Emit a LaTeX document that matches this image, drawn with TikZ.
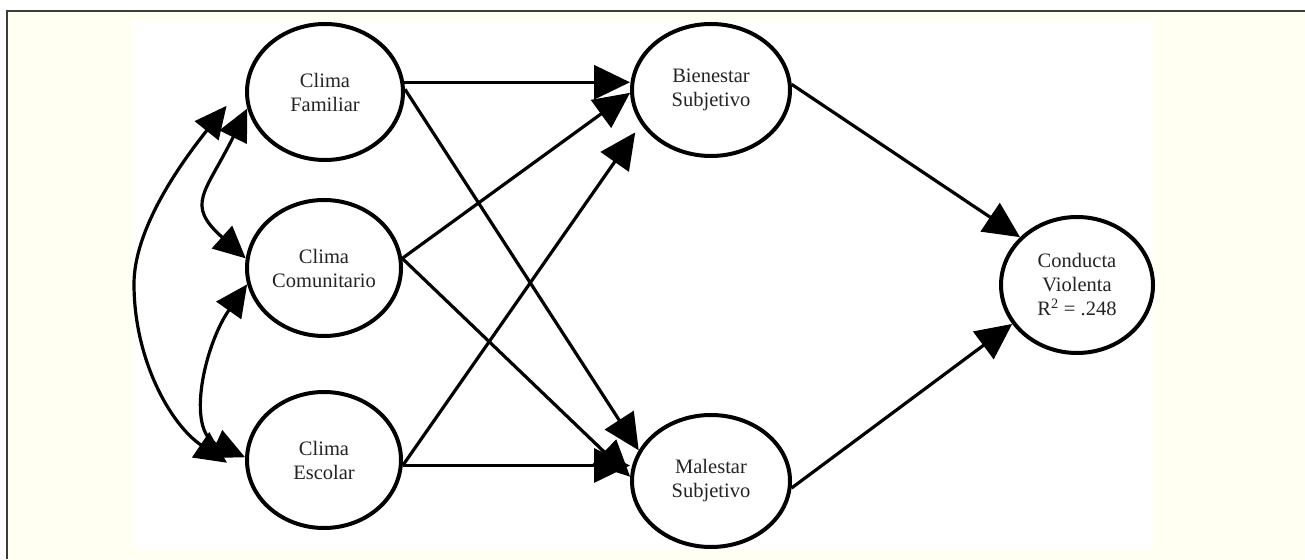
\documentclass[tikz,border=0pt]{standalone}
\usepackage{fontspec}
\setmainfont{Liberation Serif}
\usetikzlibrary{arrows.meta,shapes.geometric}
\definecolor{cream}{RGB}{255,255,242}
\definecolor{framecol}{RGB}{60,60,60}
\definecolor{txt}{RGB}{35,35,35}
\begin{document}
\begin{tikzpicture}[x=1pt,y=1pt,
  var/.style={ellipse, draw=black, line width=4pt, fill=white, inner sep=0pt,
    minimum width=154pt, minimum height=136pt, align=center,
    font=\fontsize{20.5}{24}\selectfont, text=txt},
  conn/.style={line width=3.2pt, -{Triangle[length=36pt,width=34pt]}},
  corr/.style={line width=3.2pt, {Triangle[length=32pt,width=30pt]}-{Triangle[length=32pt,width=30pt]}}
]
\useasboundingbox (0,0) rectangle (1305,559);
\fill[cream] (7,0) rectangle (1305,547.5);
\draw[framecol, line width=2pt] (6.5,0) -- (6.5,548) -- (1305,548);
\fill[white] (133,10) rectangle (1153,537);

\node[var, minimum width=156pt] (fam) at (325,467) {Clima\\Familiar};
\node[var] (com) at (324,291) {Clima\\Comunitario};
\node[var] (esc) at (324,99) {Clima\\Escolar};
\node[var, minimum width=158pt, minimum height=132pt] (bien) at (711,469) {Bienestar\\Subjetivo};
\node[var, minimum width=158pt, minimum height=132pt] (mal) at (711,78) {Malestar\\Subjetivo};
\node[var, minimum width=152pt] (cond) at (1077,274) {Conducta\\Violenta\\R\textsuperscript{2} = .248};

% directed paths
\draw[conn] (fam.7) -- (fam.7 -| bien.west);
\draw[conn] (fam.2) -- (mal.157);
\draw[conn] (com.7) -- (bien.182);
\draw[conn, shorten >=10pt] (esc.356) -- (bien.206);
\draw[conn] (com.7) -- (mal.177);
\draw[conn] (esc.356) -- (esc.356 -| mal.west);
\draw[conn] (bien.4) -- (cond.140);
\draw[conn] (mal.355) -- (cond.211);

% correlations
\draw[corr] ([xshift=-20pt]fam.190) .. controls (180,395) and (134,330) .. (134,275)
  .. controls (134,200) and (170,135) .. ([xshift=-18pt]esc.182);
\draw[corr] (fam.192) .. controls (205,365) and (185,355) .. (com.173);
\draw[corr] (com.192) .. controls (205,215) and (185,129) .. (esc.178);
\end{tikzpicture}
\end{document}
